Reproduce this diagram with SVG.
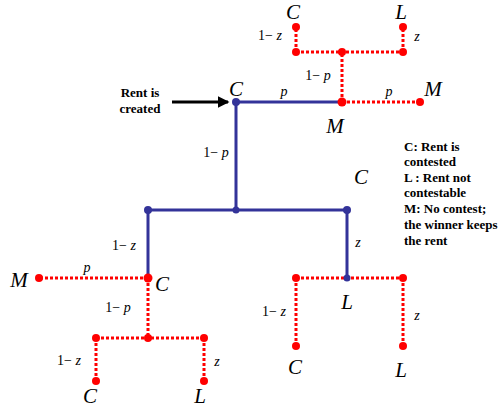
<svg xmlns="http://www.w3.org/2000/svg" width="503" height="408" viewBox="0 0 503 408">
<style>
.b{stroke:#333399;stroke-width:3;fill:none}
.r{stroke:#ff0000;stroke-width:3;fill:none;stroke-dasharray:3 2}
.bd{fill:#333399}
.rd{fill:#ff0000}
.big{font-family:"Liberation Serif",serif;font-style:italic;font-size:21px;fill:#000}
.sm{font-family:"Liberation Serif",serif;font-size:14px;fill:#000}
.sm tspan.i{font-style:italic}
.lg{font-family:"Liberation Serif",serif;font-weight:bold;font-size:13px;fill:#000}
</style>
<defs>
<marker id="ah" markerWidth="4" markerHeight="4" refX="3.5" refY="2" orient="auto" markerUnits="strokeWidth"><path d="M0,0 L4,2 L0,4 z" fill="#000"/></marker>
</defs>
<g id="connectors">
<path class="b" d="M236,102 H342 M236,102 V210 M148,210 H347 M148,210 V278 M347,210 V278"/>
<path class="r" d="M342,102 V52 M296,52 H403 M296,52 V27 M403,52 V27 M342,102 H420"/>
<path class="r" d="M148,278 H39 M148,278 V338 M96,338 H204 M96,338 V381 M204,338 V381"/>
<path class="r" d="M296,278 H403 M296,278 V346 M403,278 V346"/>
<line x1="172" y1="102" x2="228" y2="102" stroke="#000" stroke-width="3" marker-end="url(#ah)"/>
</g>
<g id="rent-created"><text class="lg" x="140" y="97" text-anchor="middle">Rent is</text><text class="lg" x="140" y="113" text-anchor="middle">created</text></g>
<g id="n-root"><circle class="bd" cx="236" cy="102" r="4"/><text class="big" x="236" y="96" text-anchor="middle">C</text></g>
<g id="n-m1"><circle class="rd" cx="342" cy="102" r="4.5"/><text class="big" x="335" y="133" text-anchor="middle">M</text></g>
<g id="n-top"><circle class="rd" cx="342" cy="52" r="4"/><circle class="rd" cx="296" cy="52" r="4"/><circle class="rd" cx="403" cy="52" r="4"/></g>
<g id="n-topC"><circle class="rd" cx="296" cy="27" r="4"/><text class="big" x="293" y="19" text-anchor="middle">C</text></g>
<g id="n-topL"><circle class="rd" cx="403" cy="27" r="4"/><text class="big" x="401" y="19" text-anchor="middle">L</text></g>
<g id="n-M2"><circle class="rd" cx="420" cy="102" r="4"/><text class="big" x="433" y="96" text-anchor="middle">M</text></g>
<g id="n-mid"><circle class="bd" cx="148" cy="210" r="4"/><circle class="bd" cx="236" cy="210" r="3.5"/><circle class="bd" cx="347" cy="210" r="4"/><text class="big" x="361" y="184" text-anchor="middle">C</text></g>
<g id="n-leftC"><circle class="rd" cx="148" cy="278" r="4.5"/><text class="big" x="162" y="291" text-anchor="middle">C</text></g>
<g id="n-leftM"><circle class="rd" cx="39" cy="278" r="4"/><text class="big" x="19" y="287" text-anchor="middle">M</text></g>
<g id="n-left2"><circle class="rd" cx="148" cy="338" r="4"/><circle class="rd" cx="96" cy="338" r="4"/><circle class="rd" cx="204" cy="338" r="4"/></g>
<g id="n-llC"><circle class="rd" cx="96" cy="381" r="4"/><text class="big" x="90" y="403" text-anchor="middle">C</text></g>
<g id="n-llL"><circle class="rd" cx="204" cy="381" r="4"/><text class="big" x="200" y="403" text-anchor="middle">L</text></g>
<g id="n-rightL"><circle class="rd" cx="296" cy="278" r="4"/><circle class="rd" cx="403" cy="278" r="4"/><circle class="bd" cx="347" cy="278" r="3.5"/><text class="big" x="347" y="309" text-anchor="middle">L</text></g>
<g id="n-rC"><circle class="rd" cx="296" cy="346" r="4"/><text class="big" x="295" y="374" text-anchor="middle">C</text></g>
<g id="n-rL"><circle class="rd" cx="403" cy="346" r="4"/><text class="big" x="401" y="377" text-anchor="middle">L</text></g>
<g id="labels">
<text class="sm" x="270" y="40" text-anchor="middle">1− <tspan class="i">z</tspan></text>
<text class="sm" x="417" y="41" text-anchor="middle"><tspan class="i">z</tspan></text>
<text class="sm" x="318" y="80" text-anchor="middle">1− <tspan class="i">p</tspan></text>
<text class="sm" x="284" y="96" text-anchor="middle"><tspan class="i">p</tspan></text>
<text class="sm" x="389" y="96" text-anchor="middle"><tspan class="i">p</tspan></text>
<text class="sm" x="216" y="157" text-anchor="middle">1− <tspan class="i">p</tspan></text>
<text class="sm" x="124" y="250" text-anchor="middle">1− <tspan class="i">z</tspan></text>
<text class="sm" x="358" y="247" text-anchor="middle"><tspan class="i">z</tspan></text>
<text class="sm" x="87" y="272" text-anchor="middle"><tspan class="i">p</tspan></text>
<text class="sm" x="118" y="312" text-anchor="middle">1− <tspan class="i">p</tspan></text>
<text class="sm" x="274" y="316" text-anchor="middle">1− <tspan class="i">z</tspan></text>
<text class="sm" x="417" y="320" text-anchor="middle"><tspan class="i">z</tspan></text>
<text class="sm" x="69" y="365" text-anchor="middle">1− <tspan class="i">z</tspan></text>
<text class="sm" x="217" y="366" text-anchor="middle"><tspan class="i">z</tspan></text>
</g>
<g id="legend" class="lg">
<text class="lg" x="404" y="151">C: Rent is</text>
<text class="lg" x="404" y="166">contested</text>
<text class="lg" x="404" y="182">L : Rent not</text>
<text class="lg" x="404" y="197">contestable</text>
<text class="lg" x="404" y="213">M: No contest;</text>
<text class="lg" x="404" y="229">the winner keeps</text>
<text class="lg" x="404" y="245">the rent</text>
</g>
</svg>
